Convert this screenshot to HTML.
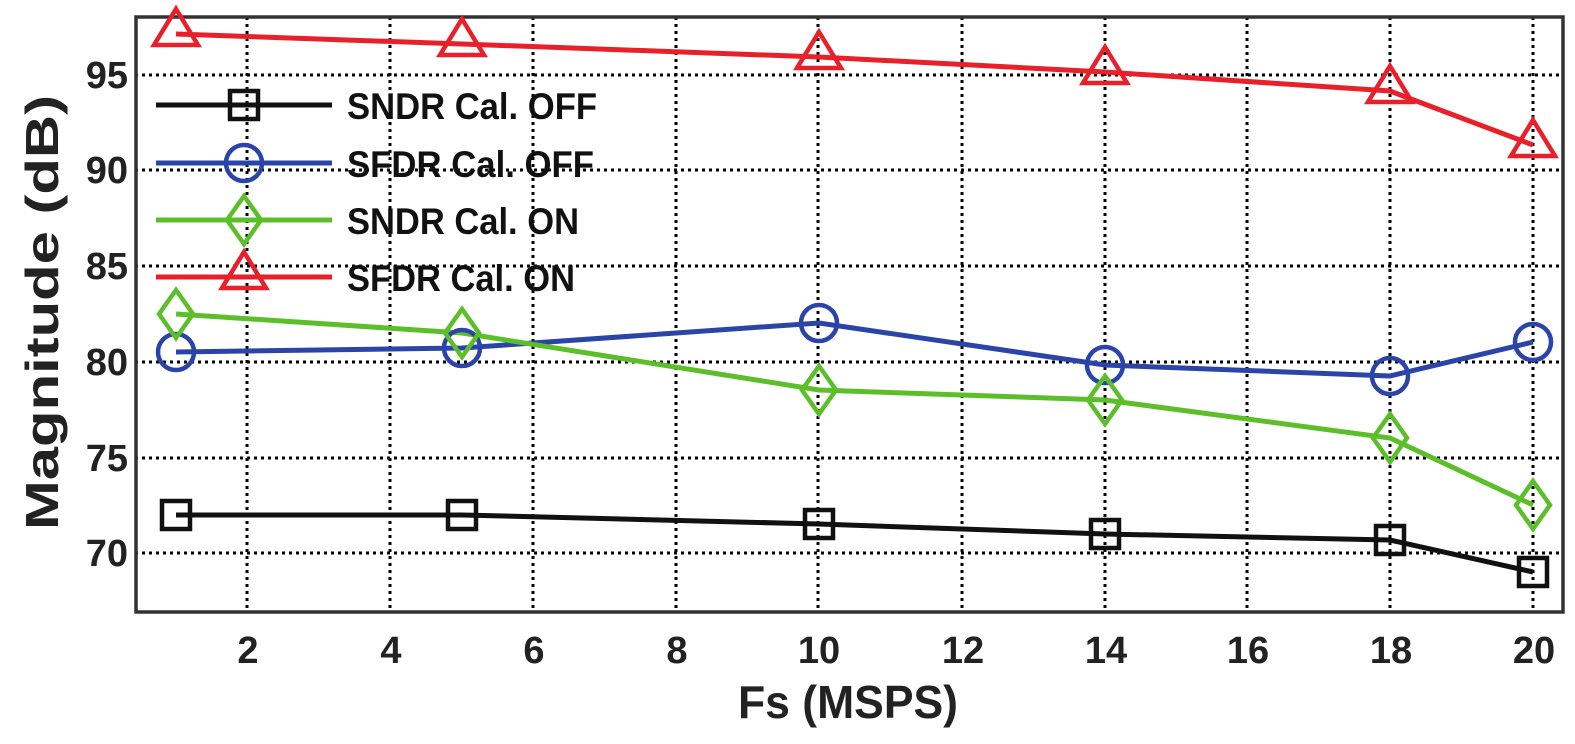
<!DOCTYPE html>
<html><head><style>body{margin:0;background:#fff}</style></head><body>
<svg width="1575" height="739" xmlns="http://www.w3.org/2000/svg" font-family="Liberation Sans, sans-serif" font-weight="bold">
<g stroke="#000" stroke-width="3" stroke-dasharray="3,4">
<line x1="247" y1="17" x2="247" y2="610"/><line x1="390" y1="17" x2="390" y2="610"/><line x1="533" y1="17" x2="533" y2="610"/><line x1="676" y1="17" x2="676" y2="610"/><line x1="818" y1="17" x2="818" y2="610"/><line x1="962" y1="17" x2="962" y2="610"/><line x1="1105" y1="17" x2="1105" y2="610"/><line x1="1247" y1="17" x2="1247" y2="610"/><line x1="1390" y1="17" x2="1390" y2="610"/><line x1="1533" y1="17" x2="1533" y2="610"/>
<line x1="135" y1="75" x2="1563" y2="75"/><line x1="135" y1="170" x2="1563" y2="170"/><line x1="135" y1="266" x2="1563" y2="266"/><line x1="135" y1="362" x2="1563" y2="362"/><line x1="135" y1="458" x2="1563" y2="458"/><line x1="135" y1="553" x2="1563" y2="553"/>
</g>
<rect x="136" y="17" width="1427" height="595" fill="none" stroke="#333" stroke-width="3.5"/>
<g font-size="38" fill="#222" text-anchor="end">
<text x="128" y="88">95</text><text x="128" y="183">90</text><text x="128" y="279">85</text><text x="128" y="375">80</text><text x="128" y="471">75</text><text x="128" y="566">70</text>
</g>
<g font-size="38" fill="#222" text-anchor="middle">
<text x="248" y="663">2</text><text x="391" y="663">4</text><text x="534" y="663">6</text><text x="677" y="663">8</text><text x="819" y="663">10</text><text x="963" y="663">12</text><text x="1106" y="663">14</text><text x="1248" y="663">16</text><text x="1391" y="663">18</text><text x="1534" y="663">20</text>
</g>
<text x="738" y="718" font-size="46" fill="#222" textLength="220" lengthAdjust="spacingAndGlyphs">Fs (MSPS)</text>
<text transform="translate(58,530) rotate(-90)" font-size="46" fill="#222" textLength="435" lengthAdjust="spacingAndGlyphs">Magnitude (dB)</text>
<g fill="none" stroke-width="5">
<polyline stroke="#111" points="176,515 462,515 819,524 1105,534 1390,540 1533,572"/>
<polyline stroke="#2b44a8" points="176,352 462,348 819,323 1105,365 1390,376 1533,342"/>
<polyline stroke="#5cbf2a" points="176,314 462,333 819,390 1105,400 1390,438 1533,505"/>
<polyline stroke="#e8202a" points="176,34 462,44 819,57 1105,72 1390,91 1533,145"/>
</g>
<g fill="none" stroke-width="4.5">
<g stroke="#111"><rect x="162" y="501" width="28" height="28"/><rect x="448" y="501" width="28" height="28"/><rect x="805" y="510" width="28" height="28"/><rect x="1091" y="520" width="28" height="28"/><rect x="1376" y="526" width="28" height="28"/><rect x="1519" y="558" width="28" height="28"/><rect x="230" y="91" width="28" height="28"/></g>
<g stroke="#2b44a8"><circle cx="176" cy="352" r="18"/><circle cx="462" cy="348" r="18"/><circle cx="819" cy="323" r="18"/><circle cx="1105" cy="365" r="18"/><circle cx="1390" cy="376" r="18"/><circle cx="1533" cy="342" r="18"/><circle cx="244" cy="163" r="18"/></g>
<g stroke="#5cbf2a"><path d="M176,290 L193,314 L176,338 L159,314Z"/><path d="M462,309 L479,333 L462,357 L445,333Z"/><path d="M819,366 L836,390 L819,414 L802,390Z"/><path d="M1105,376 L1122,400 L1105,424 L1088,400Z"/><path d="M1390,414 L1407,438 L1390,462 L1373,438Z"/><path d="M1533,481 L1550,505 L1533,529 L1516,505Z"/><path d="M244,196 L261,220 L244,244 L227,220Z"/></g>
<g stroke="#e8202a"><path d="M176,9 L198,45 L154,45Z"/><path d="M462,19 L484,55 L440,55Z"/><path d="M819,32 L841,68 L797,68Z"/><path d="M1105,47 L1127,83 L1083,83Z"/><path d="M1390,66 L1412,102 L1368,102Z"/><path d="M1533,120 L1555,156 L1511,156Z"/><path d="M244,252 L266,288 L222,288Z"/></g>
</g>
<g stroke-width="5">
<line x1="156" y1="105" x2="332" y2="105" stroke="#111"/>
<line x1="156" y1="163" x2="332" y2="163" stroke="#2b44a8"/>
<line x1="156" y1="220" x2="332" y2="220" stroke="#5cbf2a"/>
<line x1="156" y1="277" x2="332" y2="277" stroke="#e8202a"/>
</g>
<g font-size="37" fill="#111" lengthAdjust="spacingAndGlyphs">
<text x="347" y="119" textLength="250" lengthAdjust="spacingAndGlyphs">SNDR Cal. OFF</text>
<text x="347" y="177" textLength="247" lengthAdjust="spacingAndGlyphs">SFDR Cal. OFF</text>
<text x="347" y="234" textLength="232" lengthAdjust="spacingAndGlyphs">SNDR Cal. ON</text>
<text x="347" y="291" textLength="228" lengthAdjust="spacingAndGlyphs">SFDR Cal. ON</text>
</g>
</svg>
</body></html>
